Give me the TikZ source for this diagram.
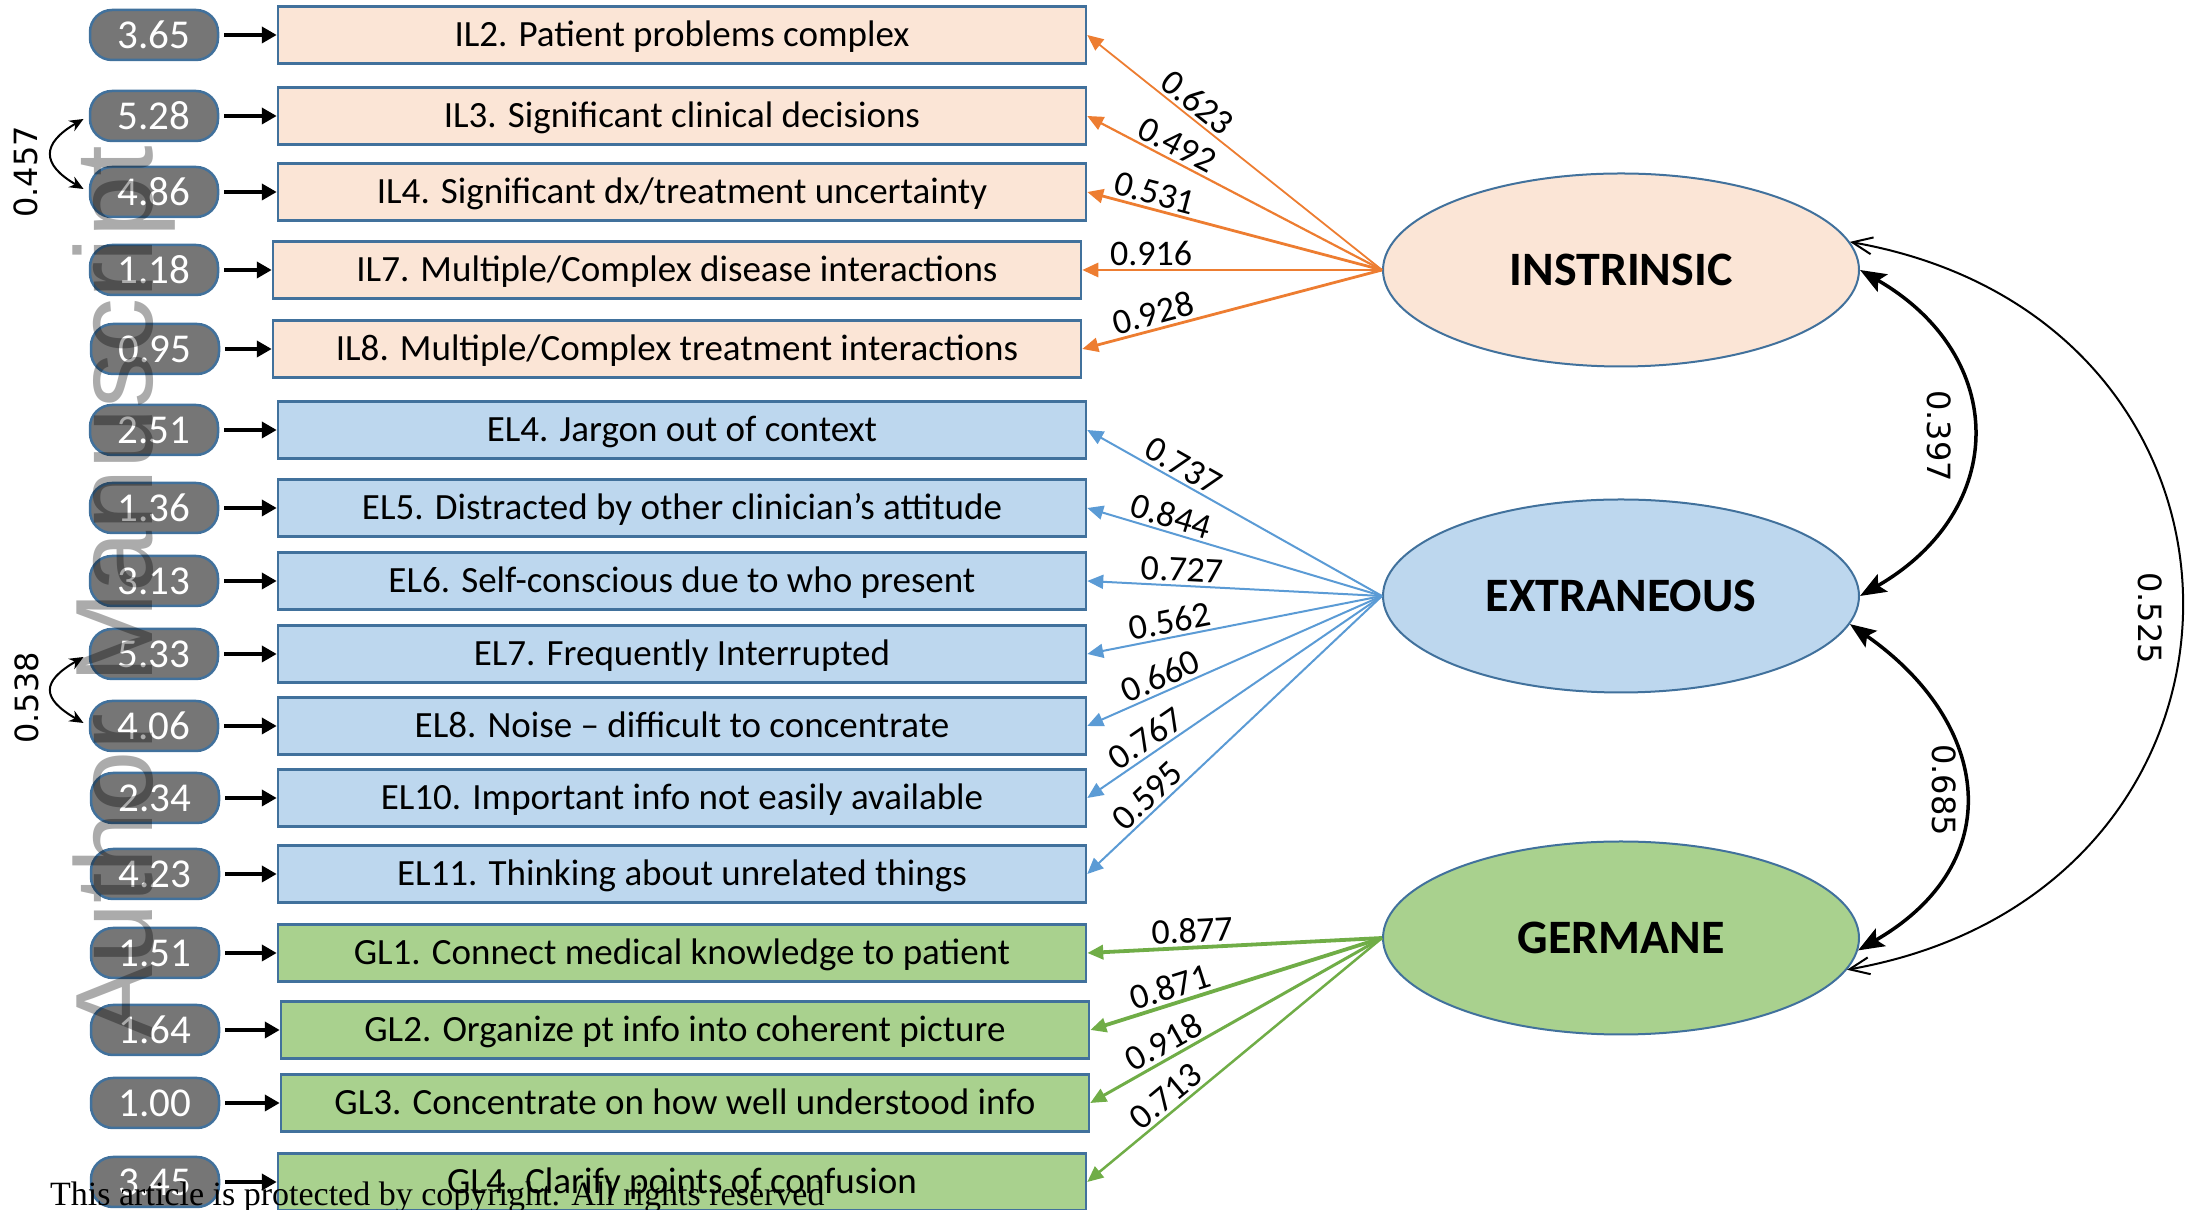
\documentclass[tikz,border=0pt]{standalone}
\usepackage{fontspec}
\setmainfont{Carlito}
\newfontfamily\dejavu{DejaVu Sans}
\newfontfamily\wmfont{Liberation Sans}
\newfontfamily\serifnote{Liberation Serif}
\usetikzlibrary{arrows.meta,shapes.geometric}
\definecolor{peach}{HTML}{FBE5D6}
\definecolor{lblue}{HTML}{BDD7EE}
\definecolor{lgreen}{HTML}{A9D18E}
\definecolor{bord}{HTML}{41719C}
\definecolor{orng}{HTML}{ED7D31}
\definecolor{blu}{HTML}{5B9BD5}
\definecolor{grn}{HTML}{70AD47}
\definecolor{numfill}{HTML}{767676}
\begin{document}
\begin{tikzpicture}[x=1pt,y=1pt,
  num/.style={draw=bord, line width=2.5pt, fill=numfill, rounded corners=22pt, minimum width=128pt, minimum height=50pt, inner sep=0pt, text=white, font=\fontsize{41}{44}\selectfont},
  item/.style={draw=bord, line width=2.5pt, minimum width=808pt, minimum height=57pt, inner sep=0pt, text height=30pt, text depth=6pt, font=\fontsize{37}{40}\selectfont},
  ilbox/.style={item, fill=peach},
  elbox/.style={item, fill=lblue},
  glbox/.style={item, fill=lgreen},
  latent/.style={ellipse, draw=bord, line width=2pt, minimum width=476pt, minimum height=193pt, inner sep=0pt, font=\fontsize{48}{52}\selectfont\bfseries},
  feed/.style={line width=4.5pt, -{Triangle[length=15pt,width=16pt]}, shorten <=5pt},
  load/.style={-{Triangle[length=16pt,width=14pt]}},
  lab/.style={sloped, above=1pt, inner sep=2pt, font=\fontsize{36}{38}\selectfont, text=black},
  clab/.style={font=\dejavu\fontsize{32}{34}\selectfont, inner sep=0pt},
  cov/.style={line width=2pt, {Stealth[length=14pt,width=12pt]}-{Stealth[length=14pt,width=12pt]}, shorten <=6pt, shorten >=6pt},
  corr/.style={line width=3.5pt, {Stealth[length=26pt,width=20pt,inset=5pt]}-{Stealth[length=26pt,width=20pt,inset=5pt]}},
  corrthin/.style={line width=2pt, {Straight Barb[length=20pt,width=17pt]}-{Straight Barb[length=20pt,width=17pt]}},
]
\useasboundingbox (0,0) rectangle (2190,1210);

% number nodes and item boxes
\node[num] (n1) at (154,1175) {3.65};
\node[ilbox] (b1) at (682,1175) {IL2. Patient problems complex};
\node[num] (n2) at (154,1094) {5.28};
\node[ilbox] (b2) at (682,1094) {IL3. Significant clinical decisions};
\node[num] (n3) at (154,1018) {4.86};
\node[ilbox] (b3) at (682,1018) {IL4. Significant dx/treatment uncertainty};
\node[num] (n4) at (154,940) {1.18};
\node[ilbox] (b4) at (677,940) {IL7. Multiple/Complex disease interactions};
\node[num] (n5) at (155,861) {0.95};
\node[ilbox] (b5) at (677,861) {IL8. Multiple/Complex treatment interactions};
\node[num] (n6) at (154,780) {2.51};
\node[elbox] (b6) at (682,780) {EL4. Jargon out of context};
\node[num] (n7) at (154,702) {1.36};
\node[elbox] (b7) at (682,702) {EL5. Distracted by other clinician’s attitude};
\node[num] (n8) at (154,629) {3.13};
\node[elbox] (b8) at (682,629) {EL6. Self-conscious due to who present};
\node[num] (n9) at (154,556) {5.33};
\node[elbox] (b9) at (682,556) {EL7. Frequently Interrupted};
\node[num] (n10) at (154,484) {4.06};
\node[elbox] (b10) at (682,484) {EL8. Noise – difficult to concentrate};
\node[num] (n11) at (155,412) {2.34};
\node[elbox] (b11) at (682,412) {EL10. Important info not easily available};
\node[num] (n12) at (155,336) {4.23};
\node[elbox] (b12) at (682,336) {EL11. Thinking about unrelated things};
\node[num] (n13) at (155,257) {1.51};
\node[glbox] (b13) at (682,257) {GL1. Connect medical knowledge to patient};
\node[num] (n14) at (155,180) {1.64};
\node[glbox] (b14) at (685,180) {GL2. Organize pt info into coherent picture};
\node[num] (n15) at (155,107) {1.00};
\node[glbox] (b15) at (685,107) {GL3. Concentrate on how well understood info};
\node[num] (n16) at (155,28) {3.45};
\node[glbox] (b16) at (682,28) {GL4. Clarify points of confusion};

\foreach \i in {1,...,16} { \draw[feed] (n\i) -- (b\i); }

% latent variables
\node[latent, fill=peach] (inst) at (1621,940) {INSTRINSIC};
\node[latent, fill=lblue] (extr) at (1621,614) {EXTRANEOUS};
\node[latent, fill=lgreen] (germ) at (1621,272) {GERMANE};

% loadings
\draw[load, orng, line width=1.8pt] (inst.west) -- node[lab,pos=0.66]{0.623} (b1.east);
\draw[load, orng, line width=2.2pt] (inst.west) -- node[lab,pos=0.72]{0.492} (b2.east);
\draw[load, orng, line width=2.8pt] (inst.west) -- node[lab,pos=0.785]{0.531} (b3.east);
\draw[load, orng, line width=2.8pt] (inst.west) -- node[lab,pos=0.77]{0.916} (b4.east);
\draw[load, orng, line width=2.8pt] (inst.west) -- node[lab,pos=0.75]{0.928} (b5.east);

\draw[load, blu, line width=2pt] (extr.west) -- node[lab,pos=0.70]{0.737} (b6.east);
\draw[load, blu, line width=2pt] (extr.west) -- node[lab,pos=0.73]{0.844} (b7.east);
\draw[load, blu, line width=2pt] (extr.west) -- node[lab,pos=0.68]{0.727} (b8.east);
\draw[load, blu, line width=2pt] (extr.west) -- node[lab,pos=0.71]{0.562} (b9.east);
\draw[load, blu, line width=2pt] (extr.west) -- node[lab,pos=0.73]{0.660} (b10.east);
\draw[load, blu, line width=2pt] (extr.west) -- node[lab,pos=0.77]{0.767} (b11.east);
\draw[load, blu, line width=2pt] (extr.west) -- node[lab,pos=0.76]{0.595} (b12.east);

\draw[load, grn, line width=3.8pt] (germ.west) -- node[lab,pos=0.64]{0.877} (b13.east);
\draw[load, grn, line width=3.8pt] (germ.west) -- node[lab,pos=0.71]{0.871} (b14.east);
\draw[load, grn, line width=3pt] (germ.west) -- node[lab,pos=0.72]{0.918} (b15.east);
\draw[load, grn, line width=2.5pt] (germ.west) -- node[lab,pos=0.70]{0.713} (b16.east);

% correlations among factors
\draw[corr] (inst.east) to[out=-30,in=30,distance=172pt] (extr.east);
\draw[corr] (extr.-7) to[out=-35,in=30,distance=174pt] (germ.-3);
\draw[corrthin] (inst.7) to[out=-10,in=10,distance=452pt] (germ.-8);
\node[clab, rotate=-90] (c397) at (1939,774) {0.397};
\node[clab, rotate=-90] (c685) at (1944,420) {0.685};
\node[clab, rotate=-90] (c525) at (2150,592) {0.525};

% residual covariances
\draw[cov] (n2.west) to[out=210,in=150,distance=55pt] (n3.west);
\draw[cov] (n9.west) to[out=210,in=150,distance=55pt] (n10.west);
\node[clab, rotate=90] (c457) at (26,1038) {0.457};
\node[clab, rotate=90] (c538) at (27,512) {0.538};

% watermark and notice
\node[rotate=90, anchor=base, inner sep=0pt, font=\wmfont\fontsize{110}{110}\selectfont, text=black, text opacity=0.33] (wm) at (152,618) {Author Manuscript};
\node[anchor=base west, inner sep=0pt, font=\serifnote\fontsize{34}{36}\selectfont] (note) at (50,4) {This article is protected by copyright. All rights reserved};
\end{tikzpicture}
\end{document}
